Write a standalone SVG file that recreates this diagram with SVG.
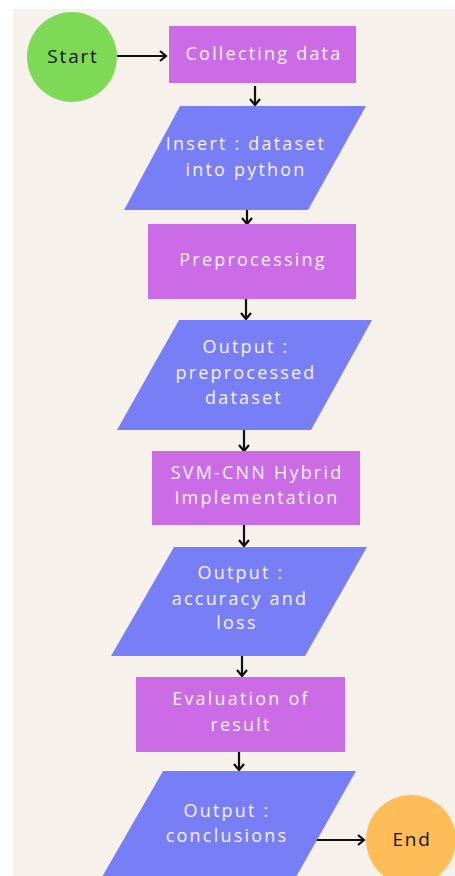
<svg xmlns="http://www.w3.org/2000/svg" width="455" height="876" viewBox="0 0 455 876">
<defs>
<style>
.proc{fill:#CB6CE6;}
.io{fill:#787FF6;}
.t{font-family:"Open Sans","Liberation Sans",sans-serif;font-size:18px;fill:#F7F1FC;text-anchor:middle;letter-spacing:2.2px;}
.tb{font-family:"Open Sans","Liberation Sans",sans-serif;font-size:19px;fill:#111;text-anchor:middle;letter-spacing:1.8px;}
.c{stroke:#111;stroke-width:2.2;fill:none;}
</style>
</defs>
<rect x="0" y="0" width="455" height="876" fill="#FFFFFF"/>
<rect x="13" y="9" width="442" height="867" fill="#F6F1EA"/>
<g id="connectors">
<path class="c" d="M117,56 L165,56"/>
<path class="c" d="M160,51 L166,56 L160,61"/>
<path class="c" d="M255,86 L255,105"/>
<path class="c" d="M250,99 L255,105 L260,99"/>
<path class="c" d="M247,210 L247,224"/>
<path class="c" d="M242,218 L247,224 L252,218"/>
<path class="c" d="M246,299 L246,319"/>
<path class="c" d="M241,313 L246,319 L251,313"/>
<path class="c" d="M244,430 L244,451"/>
<path class="c" d="M239,445 L244,451 L249,445"/>
<path class="c" d="M244,525 L244,546"/>
<path class="c" d="M239,540 L244,546 L249,540"/>
<path class="c" d="M242,656 L242,676"/>
<path class="c" d="M237,670 L242,676 L247,670"/>
<path class="c" d="M239,752 L239,770"/>
<path class="c" d="M234,764 L239,770 L244,764"/>
<path class="c" d="M316,840 L363,840"/>
<path class="c" d="M358,835 L364,840 L358,845"/>
</g>
<g id="start">
<circle cx="72" cy="57" r="45" fill="#7ED957"/>
<text class="tb" x="73" y="63">Start</text>
</g>
<g id="collecting">
<rect class="proc" x="169" y="26" width="187" height="57"/>
<text class="t" x="264" y="60">Collecting data</text>
</g>
<g id="insert">
<polygon class="io" points="180,106 366,106 308,210 124,210"/>
<text class="t" x="246" y="150">Insert : dataset</text>
<text class="t" x="246" y="176">into python</text>
</g>
<g id="preprocessing">
<rect class="proc" x="148" y="224" width="208" height="75"/>
<text class="t" x="253" y="266">Preprocessing</text>
</g>
<g id="output1">
<polygon class="io" points="179,320 372,320 311,430 117,430"/>
<text class="t" x="246" y="353">Output :</text>
<text class="t" x="246" y="379">preprocessed</text>
<text class="t" x="244" y="404">dataset</text>
</g>
<g id="svmcnn">
<rect class="proc" x="152" y="451" width="208" height="74"/>
<text class="t" x="257" y="479">SVM-CNN Hybrid</text>
<text class="t" x="257" y="504">Implementation</text>
</g>
<g id="output2">
<polygon class="io" points="174,547 367,547 305,656 111,656"/>
<text class="t" x="241" y="579">Output :</text>
<text class="t" x="240" y="605">accuracy and</text>
<text class="t" x="237" y="629">loss</text>
</g>
<g id="evaluation">
<rect class="proc" x="136" y="677" width="209" height="75"/>
<text class="t" x="241" y="705">Evaluation of</text>
<text class="t" x="241" y="731">result</text>
</g>
<g id="output3">
<polygon class="io" points="163,771 356,771 296,877 102,877"/>
<text class="t" x="227" y="817">Output :</text>
<text class="t" x="227" y="842">conclusions</text>
</g>
<g id="end">
<circle cx="411" cy="840" r="45" fill="#FFBD59"/>
<text class="tb" x="412" y="846">End</text>
</g>
</svg>
